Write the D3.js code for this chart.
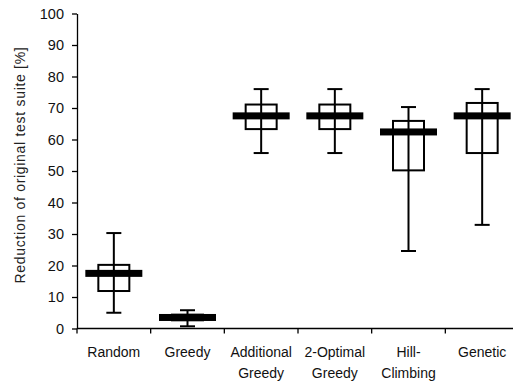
<!DOCTYPE html>
<html>
<head>
<meta charset="utf-8">
<script src="https://cdn.jsdelivr.net/npm/d3@7"></script>
<style>
body { margin: 0; background: #fff; }
svg { font-family: "Liberation Sans", Arial, sans-serif; }
</style>
</head>
<body>
<div id="chart"></div>
<script>
// categories (two lines each) and box values
var categories = ["Random", "Greedy", "Additional Greedy", "2-Optimal Greedy", "Hill-Climbing", "Genetic"];
var labelLines = [["Random"], ["Greedy"], ["Additional", "Greedy"], ["2-Optimal", "Greedy"], ["Hill-", "Climbing"], ["Genetic"]];
var whiskerLow = [5, 0.7, 55.7, 55.7, 24.6, 32.9];
var boxLow = [11.9, 2.6, 63.3, 63.3, 50.2, 55.7];
var medians = [17.5, 3.5, 67.5, 67.5, 62.4, 67.5];
var boxHigh = [20.2, 4.4, 71.1, 71.1, 65.9, 71.6];
var whiskerHigh = [30.3, 5.8, 76, 76, 70.3, 76];
var yTicks = [0, 10, 20, 30, 40, 50, 60, 70, 80, 90, 100];

var svgWidth = 513;
var svgHeight = 383;

var svg = d3.select("#chart")
  .append("svg")
  .attr("width", svgWidth)
  .attr("height", svgHeight);

var xBandScale = d3.scaleBand()
  .domain(categories)
  .range([77, 519])
  .padding(0);

var yLinearScale = d3.scaleLinear()
  .domain([0, 100])
  .range([328.5, 13.5]);

var bw = xBandScale.bandwidth();

var boxData = categories.map(function(c, i) {
  return {
    name: c,
    lo: whiskerLow[i], q1: boxLow[i], med: medians[i], q3: boxHigh[i], hi: whiskerHigh[i]
  };
});

// y axis
var leftAxis = d3.axisLeft(yLinearScale).tickValues(yTicks).tickSize(5).tickSizeOuter(0).tickPadding(8);
var yAxisG = svg.append("g")
  .attr("transform", "translate(77,0)")
  .call(leftAxis);
yAxisG.selectAll("text").style("font-size", "14.5px").attr("fill", "#111");
yAxisG.select(".domain").attr("stroke", "#000").attr("stroke-width", 1.3);
yAxisG.selectAll(".tick line").attr("stroke-width", 1.3);

// x axis with ticks at band edges
var xAxisG = svg.append("g").attr("transform", "translate(0,328.5)");
xAxisG.append("line")
  .attr("x1", 77).attr("x2", 519)
  .attr("stroke", "#000").attr("stroke-width", 1.3);
xAxisG.selectAll(".xtick")
  .data(categories)
  .enter()
  .append("line")
  .attr("class", "xtick")
  .attr("x1", d => xBandScale(d))
  .attr("x2", d => xBandScale(d))
  .attr("y1", 0).attr("y2", 5)
  .attr("stroke", "#000").attr("stroke-width", 1.3);

var xLabels = svg.selectAll(".xlabel")
  .data(categories)
  .enter()
  .append("text")
  .attr("class", "xlabel")
  .attr("x", d => xBandScale(d) + bw / 2)
  .attr("y", 356.5)
  .attr("text-anchor", "middle")
  .style("font-size", "14px")
  .attr("fill", "#111");
xLabels.each(function(d, i) {
  var t = d3.select(this);
  labelLines[i].forEach(function(line, j) {
    t.append("tspan")
      .attr("x", xBandScale(d) + bw / 2)
      .attr("dy", j === 0 ? 0 : 21.5)
      .text(line);
  });
});

// y title
svg.append("text")
  .attr("transform", "translate(25,165) rotate(-90)")
  .attr("text-anchor", "middle")
  .style("font-size", "14px")
  .style("letter-spacing", "0.7px")
  .attr("fill", "#222")
  .text("Reduction of original test suite [%]");

// boxes
var g = svg.selectAll(".box")
  .data(boxData)
  .enter()
  .append("g")
  .attr("class", "box")
  .attr("transform", d => `translate(${xBandScale(d.name) + bw / 2},0)`);

var boxW = 31, capW = 15, medW = 57, medH = 7;

g.append("rect")
  .attr("x", -boxW / 2)
  .attr("y", d => yLinearScale(d.q3))
  .attr("width", boxW)
  .attr("height", d => yLinearScale(d.q1) - yLinearScale(d.q3))
  .attr("fill", "none")
  .attr("stroke", "#000")
  .attr("stroke-width", 2);

g.append("line")
  .attr("x1", 0).attr("x2", 0)
  .attr("y1", d => yLinearScale(d.hi))
  .attr("y2", d => yLinearScale(d.lo))
  .attr("stroke", "#000").attr("stroke-width", 2);

g.append("line")
  .attr("x1", -capW / 2).attr("x2", capW / 2)
  .attr("y1", d => yLinearScale(d.hi))
  .attr("y2", d => yLinearScale(d.hi))
  .attr("stroke", "#000").attr("stroke-width", 2);

g.append("line")
  .attr("x1", -capW / 2).attr("x2", capW / 2)
  .attr("y1", d => yLinearScale(d.lo))
  .attr("y2", d => yLinearScale(d.lo))
  .attr("stroke", "#000").attr("stroke-width", 2);

g.append("rect")
  .attr("x", -medW / 2)
  .attr("y", d => yLinearScale(d.med) - medH / 2)
  .attr("width", medW)
  .attr("height", medH)
  .attr("fill", "#000");
</script>
</body>
</html>
